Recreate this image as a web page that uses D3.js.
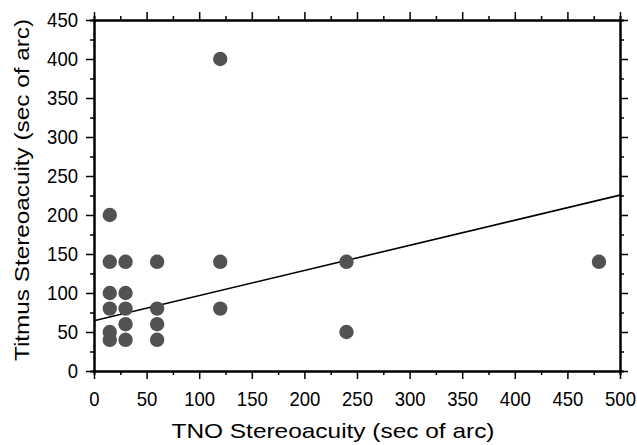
<!DOCTYPE html>
<html lang="en">
<head>
<meta charset="utf-8">
<title>TNO vs Titmus Stereoacuity</title>
<script src="https://d3js.org/d3.v7.min.js"></script>
<style>
body { margin: 0; background: #fff; }
</style>
</head>
<body>
<div id="chart"></div>
<script>
// data
var tnoValues    = [15, 15, 15, 15, 15, 15, 30, 30, 30, 30, 30, 60, 60, 60, 60, 120, 120, 120, 240, 240, 480];
var titmusValues = [200, 140, 100, 80, 50, 40, 140, 100, 80, 60, 40, 140, 80, 60, 40, 400, 140, 80, 140, 50, 140];
var fitIntercept = 64.5;
var fitSlope = 0.322;
var xTicks = d3.range(0, 501, 50);
var yTicks = d3.range(0, 451, 50);
var xMinor = d3.range(25, 500, 50);
var yMinor = d3.range(25, 450, 50);

var margin = {top: 20, right: 17, bottom: 74, left: 94},
    width = 637 - margin.left - margin.right,
    height = 445 - margin.top - margin.bottom;

var svg = d3.select("#chart")
  .append("svg")
  .attr("width", 637)
  .attr("height", 445)
  .append("g")
  .attr("transform", "translate(" + margin.left + "," + margin.top + ")");

var x = d3.scaleLinear().domain([0, 500]).range([0, width]);
var y = d3.scaleLinear().domain([0, 450]).range([height, 0]);

function styleAxis(g) {
  g.select(".domain").attr("stroke", "#000").attr("stroke-width", 2);
  g.selectAll(".tick line").attr("stroke", "#000").attr("stroke-width", 1.5);
}

// tall, narrow digits like the original
function styleLabels(g) {
  g.selectAll(".tick text")
    .attr("fill", "#000")
    .style("font-family", "'Liberation Sans', Arial, sans-serif")
    .style("font-size", "21px")
    .attr("lengthAdjust", "spacingAndGlyphs")
    .attr("textLength", function() { return this.textContent.length * 10.3; });
}

svg.append("g")
  .attr("transform", "translate(0," + height + ")")
  .call(d3.axisBottom(x).tickValues(xTicks).tickSize(8).tickSizeOuter(0).tickPadding(12))
  .call(styleAxis)
  .call(styleLabels);
svg.append("g")
  .attr("transform", "translate(0," + height + ")")
  .call(d3.axisBottom(x).tickValues(xMinor).tickSize(4).tickFormat(""))
  .call(styleAxis);

svg.append("g")
  .call(d3.axisLeft(y).tickValues(yTicks).tickSize(8).tickSizeOuter(0).tickPadding(8))
  .call(styleAxis)
  .call(styleLabels);
svg.append("g")
  .call(d3.axisLeft(y).tickValues(yMinor).tickSize(4).tickFormat(""))
  .call(styleAxis);

svg.append("g")
  .call(d3.axisTop(x).tickValues(xTicks).tickSize(8).tickSizeOuter(0).tickFormat(""))
  .call(styleAxis);
svg.append("g")
  .call(d3.axisTop(x).tickValues(xMinor).tickSize(4).tickFormat(""))
  .call(styleAxis);

svg.append("g")
  .attr("transform", "translate(" + width + ",0)")
  .call(d3.axisRight(y).tickValues(yTicks).tickSize(8).tickSizeOuter(0).tickFormat(""))
  .call(styleAxis);
svg.append("g")
  .attr("transform", "translate(" + width + ",0)")
  .call(d3.axisRight(y).tickValues(yMinor).tickSize(4).tickFormat(""))
  .call(styleAxis);

// regression line
var fit = [0, 500].map(function(v) { return {x: v, y: fitIntercept + fitSlope * v}; });
svg.append("path")
  .datum(fit)
  .attr("d", d3.line().x(function(d) { return x(d.x); }).y(function(d) { return y(d.y); }))
  .attr("stroke", "#000")
  .attr("stroke-width", 1.6)
  .attr("fill", "none");

// points
svg.selectAll("circle.pt")
  .data(tnoValues)
  .enter()
  .append("circle")
    .attr("class", "pt")
    .attr("cx", function(d) { return x(d); })
    .attr("cy", function(d, i) { return y(titmusValues[i]); })
    .attr("r", 7.2)
    .attr("fill", "#525252");

// axis titles
svg.append("text")
  .attr("x", 239)
  .attr("y", height + 67)
  .attr("text-anchor", "middle")
  .attr("textLength", 323)
  .attr("lengthAdjust", "spacingAndGlyphs")
  .style("font-family", "'Liberation Sans', Arial, sans-serif")
  .style("font-size", "21px")
  .text("TNO Stereoacuity (sec of arc)");

svg.append("text")
  .attr("transform", "rotate(-90)")
  .attr("x", -170)
  .attr("y", -65)
  .attr("text-anchor", "middle")
  .attr("textLength", 342)
  .attr("lengthAdjust", "spacingAndGlyphs")
  .style("font-family", "'Liberation Sans', Arial, sans-serif")
  .style("font-size", "21px")
  .text("Titmus Stereoacuity (sec of arc)");
</script>
</body>
</html>
